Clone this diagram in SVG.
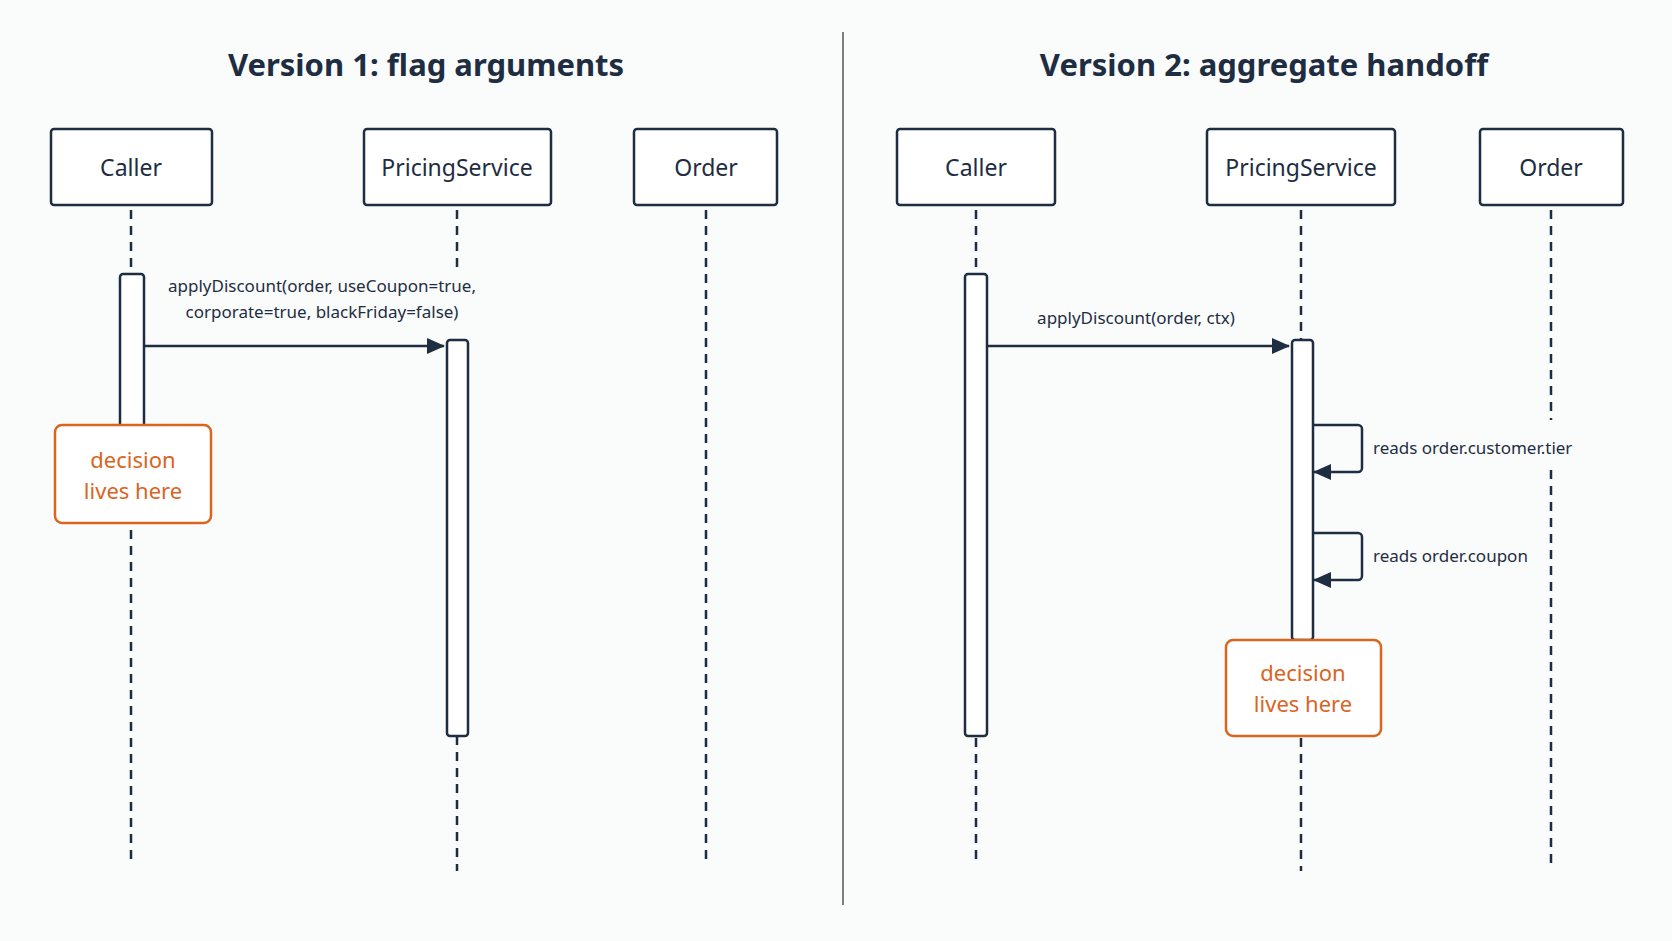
<svg xmlns="http://www.w3.org/2000/svg" width="1672" height="941" viewBox="0 0 1672 941">
<defs>
<style>
.t{font-family:"Noto Sans","Liberation Sans",sans-serif;fill:#1e2d42}
.title{font-size:31px;font-weight:bold;text-anchor:middle}
.box{fill:#fff;stroke:#1e2d42;stroke-width:2.5}
.bl{font-size:23px;text-anchor:middle}
.life{stroke:#1e2d42;stroke-width:2.5;stroke-dasharray:9 7;fill:none}
.act{fill:#fff;stroke:#1e2d42;stroke-width:2.5}
.msg{stroke:#1e2d42;stroke-width:2.5;fill:none}
.ml{font-size:17px}
.note{fill:#fff;stroke:#d9651e;stroke-width:2.5}
.nt{font-family:"Noto Sans","Liberation Sans",sans-serif;fill:#d9651e;font-size:22px;text-anchor:middle}
</style>
<marker id="ah" markerWidth="18" markerHeight="16" refX="17" refY="8" orient="auto" markerUnits="userSpaceOnUse" viewBox="0 0 18 16"><path d="M0,0 L18,8 L0,16 z" fill="#1e2d42"/></marker>
</defs>
<rect width="1672" height="941" fill="#fafbfb"/>
<text class="t title" x="426" y="76">Version 1: flag arguments</text>
<text class="t title" x="1264" y="76">Version 2: aggregate handoff</text>
<line x1="843" y1="32" x2="843" y2="905" stroke="#555" stroke-width="1.5"/>
<g id="lifelines">
<line class="life" x1="131" y1="210" x2="131" y2="866"/>
<line class="life" x1="457" y1="210" x2="457" y2="267"/>
<line class="life" x1="457" y1="736" x2="457" y2="871"/>
<line class="life" x1="706" y1="210" x2="706" y2="866"/>
<line class="life" x1="976" y1="210" x2="976" y2="866"/>
<line class="life" x1="1301" y1="210" x2="1301" y2="871"/>
<line class="life" x1="1551" y1="210" x2="1551" y2="420"/>
<line class="life" x1="1551" y1="470" x2="1551" y2="866"/>
</g>
<g id="caller1"><rect class="box" x="51" y="129" width="161" height="76" rx="3"/><text class="t bl" x="131" y="176">Caller</text></g>
<g id="pricing1"><rect class="box" x="364" y="129" width="187" height="76" rx="3"/><text class="t bl" x="457" y="176">PricingService</text></g>
<g id="order1"><rect class="box" x="634" y="129" width="143" height="76" rx="3"/><text class="t bl" x="706" y="176">Order</text></g>
<g id="caller2"><rect class="box" x="897" y="129" width="158" height="76" rx="3"/><text class="t bl" x="976" y="176">Caller</text></g>
<g id="pricing2"><rect class="box" x="1207" y="129" width="188" height="76" rx="3"/><text class="t bl" x="1301" y="176">PricingService</text></g>
<g id="order2"><rect class="box" x="1480" y="129" width="143" height="76" rx="3"/><text class="t bl" x="1551" y="176">Order</text></g>
<g id="activations">
<rect class="act" x="120" y="274" width="24" height="155" rx="3"/>
<rect class="act" x="447" y="340" width="21" height="396" rx="3"/>
<rect class="act" x="965" y="274" width="22" height="462" rx="3"/>
<rect class="act" x="1292" y="340" width="21" height="300" rx="3"/>
</g>
<g id="connectors">
<line class="msg" x1="144" y1="346" x2="444" y2="346" marker-end="url(#ah)"/>
<line class="msg" x1="987" y1="346" x2="1289" y2="346" marker-end="url(#ah)"/>
<path class="msg" d="M1313,425 H1358 a4,4 0 0 1 4,4 V468 a4,4 0 0 1 -4,4 H1314" marker-end="url(#ah)"/>
<path class="msg" d="M1313,533 H1358 a4,4 0 0 1 4,4 V576 a4,4 0 0 1 -4,4 H1314" marker-end="url(#ah)"/>
</g>
<text class="t ml" x="322" y="292" text-anchor="middle">applyDiscount(order, useCoupon=true,</text>
<text class="t ml" x="322" y="318" text-anchor="middle">corporate=true, blackFriday=false)</text>
<text class="t ml" x="1136" y="324" text-anchor="middle">applyDiscount(order, ctx)</text>
<text class="t ml" x="1373" y="454">reads order.customer.tier</text>
<text class="t ml" x="1373" y="562">reads order.coupon</text>
<g id="note1"><rect class="note" x="55" y="425" width="156" height="98" rx="7"/><text class="nt" x="133" y="468">decision</text><text class="nt" x="133" y="499">lives here</text></g>
<g id="note2"><rect class="note" x="1226" y="640" width="155" height="96" rx="7"/><text class="nt" x="1303" y="681">decision</text><text class="nt" x="1303" y="712">lives here</text></g>
</svg>
